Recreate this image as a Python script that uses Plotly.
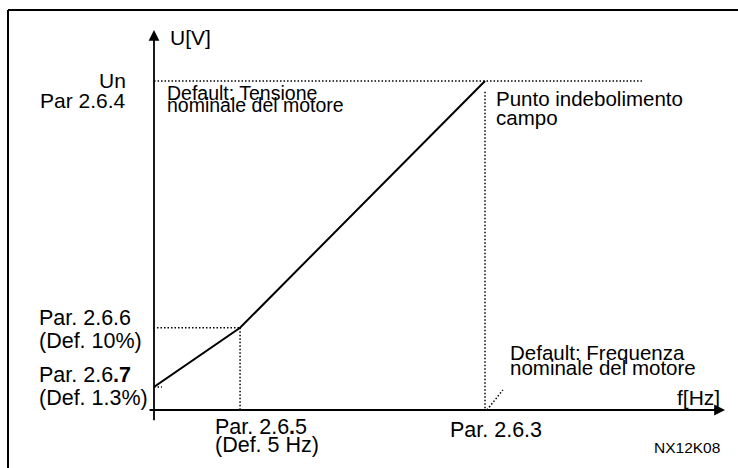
import plotly.graph_objects as go

# schematic U/f curve, in % of nominal frequency / nominal voltage
freq_pts = [0, 26, 100]
volt_pts = [7, 25, 100]

# axis extents and guide-line ends (same schematic units)
freq_axis_end = 172.5
volt_axis_end = 115.5
freq_dotted_end = 147.4
leader_f = [100.6, 105.4]
leader_u = [0, 6.1]

W, H = 738, 468
ML, MR, MT, MB = 154, 13, 30, 58
FONT = "Liberation Sans, Arial, sans-serif"


def px_x(p):
    return (p - ML) / (W - ML - MR)


def px_y(p):
    return (H - MB - p) / (H - MT - MB)


fig = go.Figure()

# the U/f characteristic
fig.add_trace(go.Scatter(
    x=freq_pts, y=volt_pts, mode="lines",
    line=dict(color="black", width=2), hoverinfo="skip"
))

# dotted guide lines
dot = dict(color="black", width=1.5, dash="1.5px,2px")
guides = [
    ([-2.1, freq_dotted_end], [volt_pts[2], volt_pts[2]]),
    ([freq_pts[2], freq_pts[2]], [96.7, -2.4]),
    ([0.9, freq_pts[1]], [volt_pts[1], volt_pts[1]]),
    ([freq_pts[1], freq_pts[1]], [volt_pts[1], -4]),
    ([0, 2.4], [volt_pts[0], volt_pts[0]]),
    (leader_f, leader_u),
]
for gx, gy in guides:
    fig.add_trace(go.Scatter(x=gx, y=gy, mode="lines", line=dot, hoverinfo="skip"))

# axes drawn as arrows
arrows = [
    dict(x=0, y=volt_axis_end, ax=0, ay=-3.6),
    dict(x=freq_axis_end, y=0, ax=-1.8, ay=0),
]
annotations = []
for a in arrows:
    annotations.append(dict(
        x=a["x"], y=a["y"], ax=a["ax"], ay=a["ay"],
        xref="x", yref="y", axref="x", ayref="y",
        text="", showarrow=True, arrowhead=2, arrowsize=1.2,
        arrowwidth=1.8, arrowcolor="black", standoff=0, startstandoff=0
    ))

# (text, x, y, xanchor, xshift, yshift, size)
labels = [
    ("U[V]", 0, volt_axis_end, "left", 14, -7, 21),
    ("Un", 0, volt_pts[2], "right", -26, 1, 21),
    ("Par 2.6.4", 0, volt_pts[2], "right", -26, -19, 21),
    ("Default: Tensione", 0, volt_pts[2], "left", 11, -12, 19.5),
    ("nominale del motore", 0, volt_pts[2], "left", 11, -24, 19.5),
    ("Punto indebolimento", freq_pts[2], volt_pts[2], "left", 9, -17, 20.5),
    ("campo", freq_pts[2], volt_pts[2], "left", 9, -36, 20.5),
    ("Par. 2.6.6", 0, volt_pts[1], "left", -117, 10, 21.5),
    ("(Def. 10%)", 0, volt_pts[1], "left", -117, -13, 21.5),
    ("Par. 2.6<b>.7</b>", 0, volt_pts[0], "left", -117, 12, 21.5),
    ("(Def. 1.3%)", 0, volt_pts[0], "left", -117, -11, 21.5),
    ("Par. 2.6<b>.</b>5", freq_pts[1], 0, "left", -27, -17, 21.5),
    ("(Def. 5 Hz)", freq_pts[1], 0, "left", -27, -35, 21.5),
    ("Par. 2.6.3", freq_pts[2], 0, "left", -37, -20, 21.5),
    ("Default: Frequenza", freq_pts[2], 0, "left", 23, 58, 20.5),
    ("nominale del motore", freq_pts[2], 0, "left", 23, 43, 20.5),
    ("f[Hz]", freq_axis_end, 0, "right", -3, 13, 21),
    ("NX12K08", freq_axis_end, 0, "right", -3, -37, 15.5),
]
for text, x, y, xa, xs, ys, size in labels:
    annotations.append(dict(
        x=x, y=y, xref="x", yref="y", text=text, showarrow=False,
        xanchor=xa, yanchor="middle", xshift=xs, yshift=ys,
        font=dict(family=FONT, size=size, color="black")
    ))

# frame (top and left edges)
shapes = [
    dict(type="line", xref="paper", yref="paper",
         x0=px_x(8), y0=px_y(10), x1=px_x(W), y1=px_y(10),
         line=dict(color="black", width=2)),
    dict(type="line", xref="paper", yref="paper",
         x0=px_x(8), y0=px_y(10), x1=px_x(8), y1=px_y(H),
         line=dict(color="black", width=2)),
]

fig.update_layout(
    width=W, height=H,
    margin=dict(l=ML, r=MR, t=MT, b=MB),
    paper_bgcolor="white", plot_bgcolor="white",
    showlegend=False, hovermode=False,
    xaxis=dict(visible=False, range=[0, freq_axis_end], fixedrange=True),
    yaxis=dict(visible=False, range=[0, volt_axis_end], fixedrange=True),
    annotations=annotations,
    shapes=shapes,
)

fig.write_html(
    "out.html",
    config={"displayModeBar": False},
    post_script="document.body.style.margin='0';"
                "document.documentElement.style.overflow='hidden';",
)
